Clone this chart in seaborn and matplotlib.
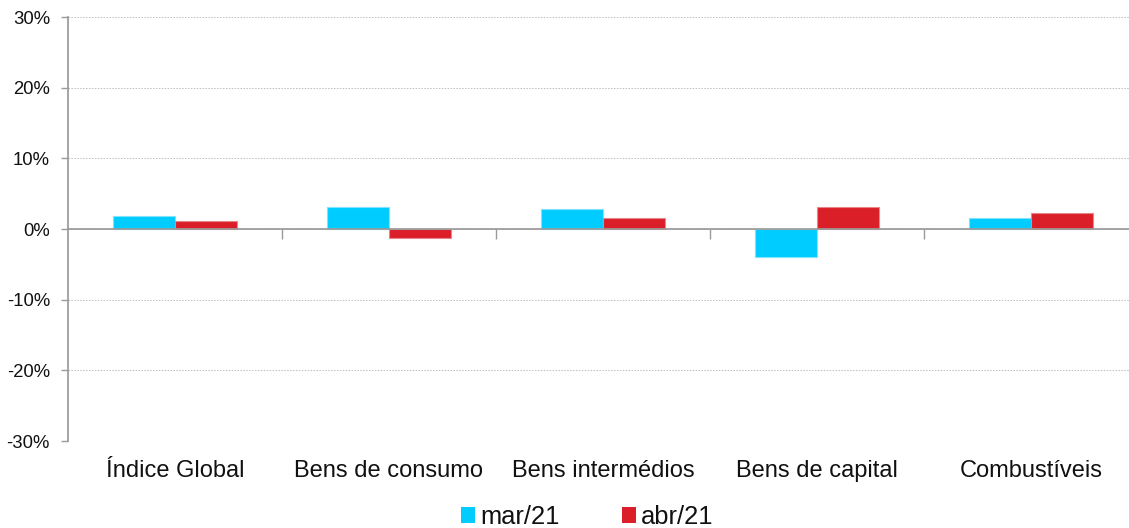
import matplotlib
matplotlib.use("Agg")

import matplotlib.pyplot as plt
import matplotlib.ticker as mticker
import pandas as pd
import seaborn as sns

categories = ["Índice Global", "Bens de consumo", "Bens intermédios",
              "Bens de capital", "Combustíveis"]
series_names = ["mar/21", "abr/21"]
mar21 = [1.8, 3.1, 2.8, -3.9, 1.5]
abr21 = [1.1, -1.3, 1.6, 3.1, 2.3]
y_ticks = [-30, -20, -10, 0, 10, 20, 30]

colors = {"mar/21": "#00CCFF", "abr/21": "#DA1F29"}
edges = {"mar/21": "#7FE3FF", "abr/21": "#E8868B"}

df = pd.DataFrame({
    "categoria": categories * 2,
    "serie": [series_names[0]] * len(categories) + [series_names[1]] * len(categories),
    "valor": mar21 + abr21,
})

sns.set_theme(style="white")
plt.rcParams["font.family"] = ["Liberation Sans", "DejaVu Sans"]

fig = plt.figure(figsize=(11.29, 5.28), dpi=100)
ax = fig.add_axes([68 / 1129, 1 - 441 / 528, (1138 - 68) / 1129, (441 - 17) / 528])

sns.barplot(data=df, x="categoria", y="valor", hue="serie", order=categories,
            hue_order=series_names, palette=colors, width=0.575, saturation=1,
            ax=ax, legend=False)

for cont, name in zip(ax.containers, series_names):
    for bar in cont:
        bar.set_edgecolor(edges[name])
        bar.set_linewidth(0.8)

ax.set_xlim(-0.5, len(categories) - 0.5)
ax.set_ylim(-30, 30)
ax.set_yticks(y_ticks)
ax.yaxis.set_major_formatter(mticker.FuncFormatter(lambda v, _: f"{v:.0f}%"))
ax.grid(axis="y", color="#BDBDBD", linestyle=(0, (1.5, 1.5)), linewidth=0.7)
ax.set_axisbelow(True)

# axis crosses at zero, separators as minor ticks, labels at the bottom
for s in ["top", "right"]:
    ax.spines[s].set_visible(False)
ax.spines["left"].set_color("#9A9A9A")
ax.spines["bottom"].set_color("#9A9A9A")
ax.spines["bottom"].set_position(("data", 0))
ax.spines["bottom"].set_zorder(3)
ax.set_xticks(range(len(categories)))
ax.set_xticklabels([])
ax.set_xticks([i + 0.5 for i in range(len(categories) - 1)], minor=True)
ax.tick_params(axis="x", which="major", length=0)
ax.tick_params(axis="x", which="minor", length=7, color="#9A9A9A", width=1,
               direction="out", bottom=True)
ax.tick_params(axis="y", length=5, color="#9A9A9A", width=1, left=True,
               labelsize=13.3, pad=8, labelcolor="#111111")

sec = ax.secondary_xaxis(0)
sec.set_xticks(range(len(categories)), categories)
sec.tick_params(length=0, labelsize=17, pad=14, labelcolor="#111111")
sec.spines["bottom"].set_visible(False)

ax.set_xlabel("")
ax.set_ylabel("")

handles = [plt.Rectangle((0, 0), 1, 1, facecolor=colors[n], edgecolor="none")
           for n in series_names]
fig.legend(handles, series_names, loc="center", bbox_to_anchor=(0.52, 0.021),
           ncol=2, frameon=False, fontsize=18.4, handlelength=0.55,
           handleheight=0.55, handletextpad=0.2, columnspacing=2.45,
           borderpad=0, labelcolor="#111111")

fig.savefig("out.png", dpi=100)
